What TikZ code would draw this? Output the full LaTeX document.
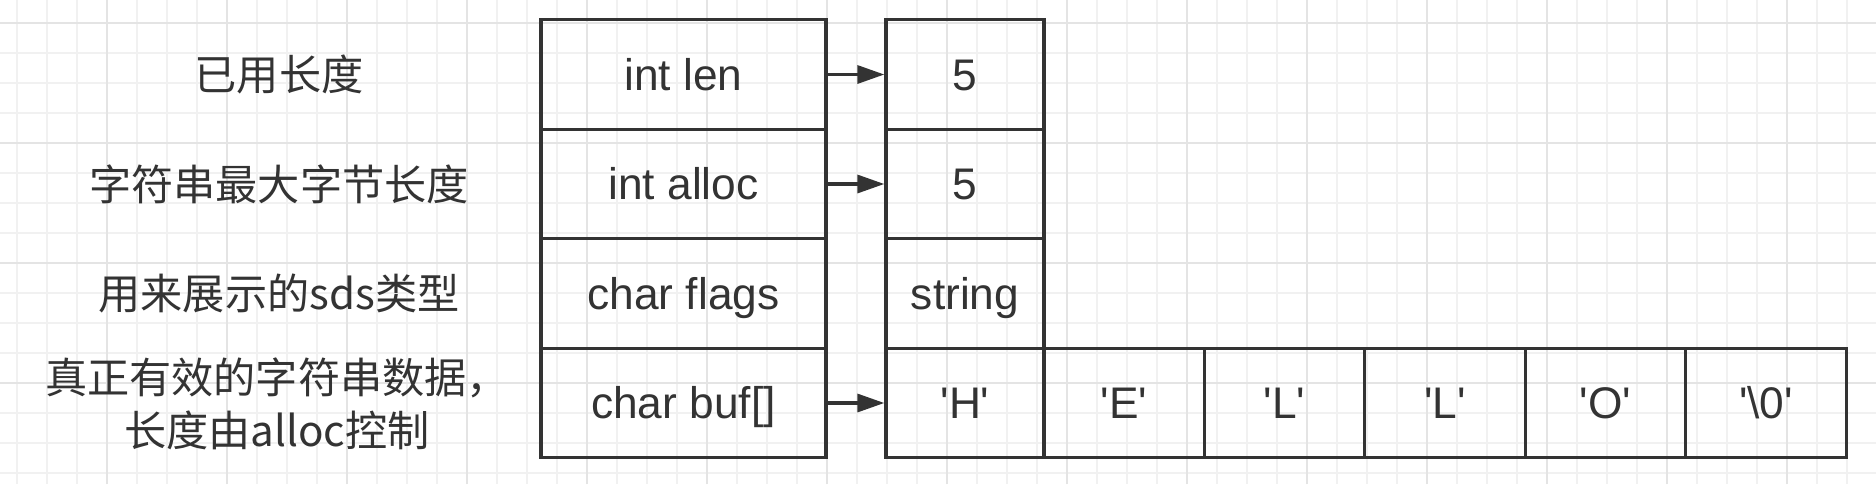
\documentclass[tikz,border=0pt]{standalone}
\usepackage{fontspec}
\setmainfont{Liberation Sans}
\newfontfamily\cjk{Noto Sans CJK SC}
\usetikzlibrary{arrows.meta}

\definecolor{ink}{HTML}{333333}
\definecolor{gridminor}{HTML}{F1F1F1}
\definecolor{gridmajor}{HTML}{E4E4E4}
\newcommand{\charq}[1]{\textquotesingle#1\textquotesingle}

\begin{document}
\begin{tikzpicture}[
  cell/.style={draw=ink,line width=0.95pt,minimum height=1.095cm,inner sep=0pt,
    text height=9pt,text depth=0pt,text=ink,font=\fontsize{12.6}{15}\selectfont},
  field/.style={cell,minimum width=2.85cm},
  value/.style={cell,minimum width=1.58cm},
  byte/.style={cell,minimum width=1.605cm},
  note/.style={text=ink,align=center,font=\fontsize{12}{15}\selectfont\cjk},
  ptr/.style={draw=ink,line width=0.95pt,-{Triangle[length=2.7mm,width=1.8mm]}}
]

% paper with grid
\useasboundingbox (0,0) rectangle (18.76,4.84);
\fill[white] (0,0) rectangle (18.76,4.84);
\draw[gridminor,line width=0.4pt,shift={(0.17,0.11)},step=0.3] (-0.17,-0.11) grid (18.59,4.73);
\draw[gridmajor,line width=0.6pt,shift={(1.07,1.01)},step=1.2] (-1.07,-1.01) grid (17.69,3.83);

% descriptions
\node[note] (lenlbl) at (2.79,4.095) {已用长度};
\node[note] (alloclbl) at (2.79,3.00) {字符串最大字节长度};
\node[note] (flagslbl) at (2.79,1.905) {用来展示的sds类型};
\node[note] (buflbl) at (2.77,0.805) {真正有效的字符串数据，\\长度由alloc控制};

% sdshdr fields
\node[field] (len) at (6.835,4.095) {int len};
\node[field] (alloc) at (6.835,3.00) {int alloc};
\node[field] (flags) at (6.835,1.905) {char flags};
\node[field] (buf) at (6.835,0.81) {char buf[]};

% values
\node[value] (lenval) at (9.65,4.095) {5};
\node[value] (allocval) at (9.65,3.00) {5};
\node[value] (flagsval) at (9.65,1.905) {string};
\node[value] (bufval) at (9.65,0.81) {\charq{H}};

\foreach \c [count=\i] in {E,L,L,O,\textbackslash 0}
  \node[byte] (byte\i) at ({9.635+1.605*\i},0.81) {\charq{\c}};

% pointers
\draw[ptr] (len.east) -- (lenval.west);
\draw[ptr] (alloc.east) -- (allocval.west);
\draw[ptr] (buf.east) -- (bufval.west);

\end{tikzpicture}
\end{document}
